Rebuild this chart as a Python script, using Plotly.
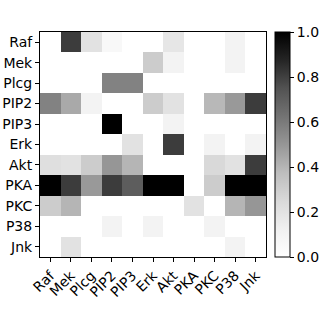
import plotly.graph_objects as go

labels = ["Raf", "Mek", "Plcg", "PIP2", "PIP3", "Erk", "Akt", "PKA", "PKC", "P38", "Jnk"]

raf  = [0.0, 0.81, 0.2, 0.06, 0.0, 0.0, 0.18, 0.0, 0.0, 0.1, 0.0]
mek  = [0.0, 0.0, 0.0, 0.0, 0.0, 0.31, 0.1, 0.0, 0.0, 0.1, 0.0]
plcg = [0.0, 0.0, 0.0, 0.57, 0.57, 0.0, 0.0, 0.0, 0.0, 0.0, 0.0]
pip2 = [0.57, 0.44, 0.1, 0.0, 0.0, 0.31, 0.2, 0.0, 0.39, 0.49, 0.81]
pip3 = [0.0, 0.0, 0.0, 1.0, 0.0, 0.0, 0.1, 0.0, 0.0, 0.0, 0.0]
erk  = [0.0, 0.0, 0.0, 0.0, 0.2, 0.0, 0.81, 0.0, 0.1, 0.0, 0.1]
akt  = [0.22, 0.2, 0.31, 0.5, 0.4, 0.0, 0.0, 0.0, 0.25, 0.2, 0.81]
pka  = [1.0, 0.81, 0.49, 0.81, 0.71, 1.0, 1.0, 0.0, 0.31, 1.0, 1.0]
pkc  = [0.31, 0.4, 0.0, 0.0, 0.0, 0.0, 0.0, 0.2, 0.0, 0.4, 0.5]
p38  = [0.0, 0.0, 0.0, 0.1, 0.0, 0.1, 0.0, 0.0, 0.1, 0.0, 0.0]
jnk  = [0.0, 0.2, 0.0, 0.0, 0.0, 0.0, 0.0, 0.0, 0.0, 0.1, 0.0]

z = [raf, mek, plcg, pip2, pip3, erk, akt, pka, pkc, p38, jnk]

greys = [[0.0, "#ffffff"], [0.125, "#f0f0f0"], [0.25, "#d9d9d9"], [0.375, "#bdbdbd"],
         [0.5, "#969696"], [0.625, "#737373"], [0.75, "#525252"], [0.875, "#252525"],
         [1.0, "#000000"]]

fig = go.Figure(go.Heatmap(
    z=z, x=labels, y=labels, zmin=0, zmax=1, colorscale=greys,
    colorbar=dict(
        x=1.04, xanchor="left", xref="paper", y=0.5, yanchor="middle",
        len=1.0, lenmode="fraction", thickness=15, thicknessmode="pixels",
        outlinewidth=1, outlinecolor="black", xpad=0, ypad=0,
        tickvals=[0, 0.2, 0.4, 0.6, 0.8, 1.0], tickformat=".1f",
        ticks="outside", ticklen=4, tickcolor="black",
        tickfont=dict(family="DejaVu Sans", size=14, color="black"),
    ),
))

fig.update_layout(
    width=319, height=319,
    margin=dict(l=40, r=53, t=32, b=62, autoexpand=False),
    paper_bgcolor="white", plot_bgcolor="white",
    font=dict(family="DejaVu Sans", size=14, color="black"),
    xaxis=dict(showline=True, linecolor="black", linewidth=1, mirror=True,
               ticks="outside", ticklen=4, tickcolor="black", tickangle=-45,
               tickmode="array", tickvals=labels, ticktext=labels,
               showgrid=False, zeroline=False, automargin=False,
               tickfont=dict(family="DejaVu Sans", size=14, color="black")),
    yaxis=dict(showline=True, linecolor="black", linewidth=1, mirror=True,
               ticks="outside", ticklen=4, tickcolor="black",
               tickmode="array", tickvals=labels, ticktext=labels,
               autorange="reversed", showgrid=False, zeroline=False, automargin=False,
               tickfont=dict(family="DejaVu Sans", size=14, color="black")),
)

fig.write_html("out.html", config={"displayModeBar": False},
               post_script="document.body.style.margin='0';document.body.style.overflow='hidden';")
